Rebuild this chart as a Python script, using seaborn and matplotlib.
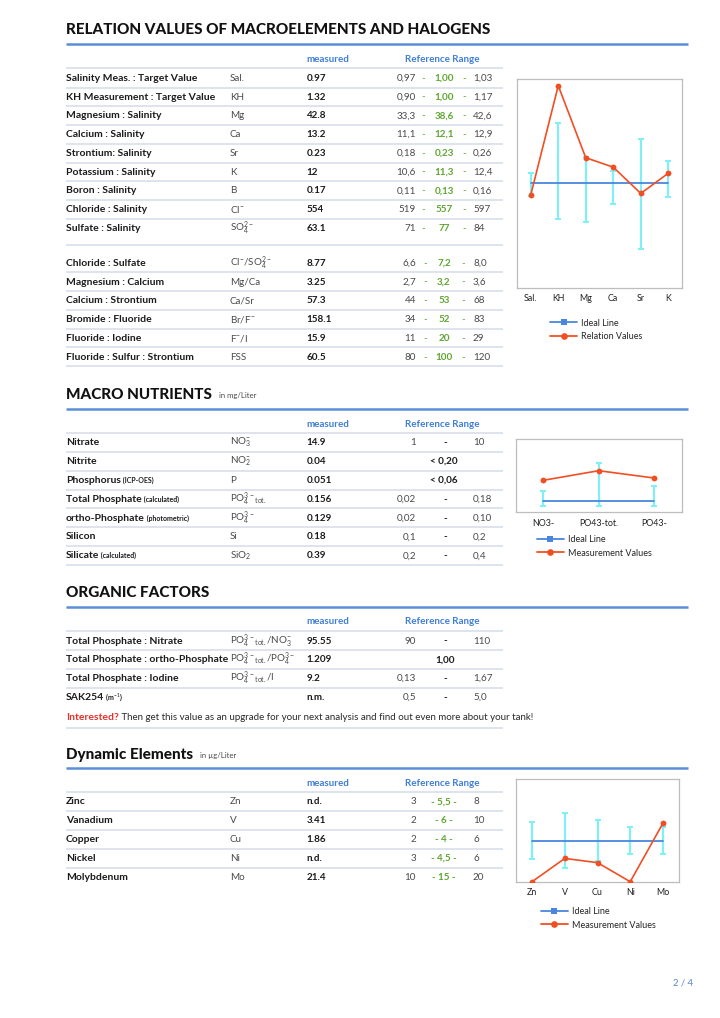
import matplotlib
matplotlib.use("Agg")
import matplotlib.pyplot as plt
import seaborn as sns
import numpy as np
from matplotlib.lines import Line2D

# ------------------------------------------------------------------ data
rel1_names = ["Salinity Meas. : Target Value", "KH Measurement : Target Value",
              "Magnesium : Salinity", "Calcium : Salinity", "Strontium: Salinity",
              "Potassium : Salinity", "Boron : Salinity", "Chloride : Salinity",
              "Sulfate : Salinity"]
rel1_symbols = ["Sal.", "KH", "Mg", "Ca", "Sr", "K", "B", r"Cl$^{-}$", r"SO$_4^{2-}$"]
rel1_measured = ["0.97", "1.32", "42.8", "13.2", "0.23", "12", "0.17", "554", "63.1"]
rel1_low = ["0,97", "0,90", "33,3", "11,1", "0,18", "10,6", "0,11", "519", "71"]
rel1_ideal = ["1,00", "1,00", "38,6", "12,1", "0,23", "11,3", "0,13", "557", "77"]
rel1_high = ["1,03", "1,17", "42,6", "12,9", "0,26", "12,4", "0,16", "597", "84"]

rel2_names = ["Chloride : Sulfate", "Magnesium : Calcium", "Calcium : Strontium",
              "Bromide : Fluoride", "Fluoride : Iodine", "Fluoride : Sulfur : Strontium"]
rel2_symbols = [r"Cl$^{-}$/SO$_4^{2-}$", "Mg/Ca", "Ca/Sr", r"Br/F$^{-}$", r"F$^{-}$/I", "FSS"]
rel2_measured = ["8.77", "3.25", "57.3", "158.1", "15.9", "60.5"]
rel2_low = ["6,6", "2,7", "44", "34", "11", "80"]
rel2_ideal = ["7,2", "3,2", "53", "52", "20", "100"]
rel2_high = ["8,0", "3,6", "68", "83", "29", "120"]

rel_chart_cats = ["Sal.", "KH", "Mg", "Ca", "Sr", "K"]
rel_chart_values = [0.962, 1.320, 1.084, 1.053, 0.967, 1.033]
rel_chart_low = [0.960, 0.882, 0.872, 0.932, 0.786, 0.956]
rel_chart_high = [1.033, 1.199, 1.085, 1.041, 1.144, 1.074]
rel_chart_ideal = [1.0, 1.0, 1.0, 1.0, 1.0, 1.0]

nut_names = ["Nitrate", "Nitrite", "Phosphorus", "Total Phosphate", "ortho-Phosphate",
             "Silicon", "Silicate"]
nut_notes = ["", "", "(ICP-OES)", "(calculated)", "(photometric)", "", "(calculated)"]
nut_symbols = [r"NO$_3^{-}$", r"NO$_2^{-}$", "P", r"PO$_4^{3-}{}_{\mathrm{tot.}}$",
               r"PO$_4^{3-}$", "Si", r"SiO$_2$"]
nut_measured = ["14.9", "0.04", "0.051", "0.156", "0.129", "0.18", "0.39"]
nut_low = ["1", "", "", "0,02", "0,02", "0,1", "0,2"]
nut_high = ["10", "", "", "0,18", "0,10", "0,2", "0,4"]
nut_limit = ["", "< 0,20", "< 0,06", "", "", "", ""]

nut_chart_cats = ["NO3-", "PO43-tot.", "PO43-"]
nut_chart_values = [1.210, 1.306, 1.233]
nut_chart_low = [0.953, 0.953, 0.953]
nut_chart_high = [1.106, 1.380, 1.156]
nut_chart_ideal = [1.0, 1.0, 1.0]

org_names = ["Total Phosphate : Nitrate", "Total Phosphate : ortho-Phosphate",
             "Total Phosphate : Iodine", "SAK254"]
org_notes = ["", "", "", r"(m$^{-1}$)"]
org_symbols = [r"PO$_4^{3-}{}_{\mathrm{tot.}}$/NO$_3^{-}$",
               r"PO$_4^{3-}{}_{\mathrm{tot.}}$/PO$_4^{3-}$",
               r"PO$_4^{3-}{}_{\mathrm{tot.}}$/I", ""]
org_measured = ["95.55", "1.209", "9.2", "n.m."]
org_low = ["90", "", "0,13", "0,5"]
org_high = ["110", "", "1,67", "5,0"]
org_target = ["", "1,00", "", ""]

dyn_names = ["Zinc", "Vanadium", "Copper", "Nickel", "Molybdenum"]
dyn_symbols = ["Zn", "V", "Cu", "Ni", "Mo"]
dyn_measured_text = ["n.d.", "3.41", "1.86", "n.d.", "21.4"]
dyn_measured = [0.0, 3.41, 1.86, 0.0, 21.4]      # n.d. drawn at zero
dyn_low = [3, 2, 2, 3, 10]
dyn_ideal = [5.5, 6, 4, 4.5, 15]
dyn_high = [8, 10, 6, 6, 20]

# ------------------------------------------------------------------ style
sns.set_style("white")
plt.rcParams["font.family"] = ["Lato", "DejaVu Sans"]
plt.rcParams["mathtext.fontset"] = "custom"
plt.rcParams["mathtext.rm"] = "Lato"
plt.rcParams["mathtext.it"] = "Lato"
plt.rcParams["mathtext.bf"] = "Lato:bold"

W, H = 720, 1018
BLACK = "#1b1b1b"
GRAY = "#4a4a4a"
BLUE_HDR = "#3f7fd6"
BLUE_LINE = "#5a8fd8"
SEP = "#d3dcea"
GREEN = "#5fa630"
RED = "#f04f23"
IDEAL = "#4a87dc"
CYAN = "#82eef6"

FS_NAME = 7.5
FS_BODY = 7.1
FS_NOTE = 5.0

fig = plt.figure(figsize=(W / 100, H / 100), dpi=100)
page = fig.add_axes([0, 0, 1, 1])
page.set_xlim(0, W)
page.set_ylim(H, 0)
page.axis("off")

X_NAME, X_SYM, X_MEAS = 66, 230, 306.5
X_LOW, X_MID, X_HIGH = 416, 444, 473


def T(x, y, s, **kw):
    kw.setdefault("fontsize", FS_BODY)
    kw.setdefault("color", GRAY)
    kw.setdefault("va", "center")
    return page.text(x, y, s, **kw)


def hline(y, x0=66, x1=503, color=SEP, lw=1.1):
    page.plot([x0, x1], [y, y], color=color, lw=lw, solid_capstyle="butt")


def section(y_title, y_line, title, unit=None, fs=11.0):
    t = T(X_NAME, y_title, title, fontsize=fs, weight=900, color="#111111")
    if unit:
        page.annotate(unit, xy=(1, 0), xycoords=t, xytext=(5, 2.5),
                      textcoords="offset points", fontsize=5.6, color=GRAY,
                      va="bottom", ha="left")
    hline(y_line, 66, 688, BLUE_LINE, 1.8)


def header(y_text, y_line):
    T(X_MEAS, y_text, "measured", color=BLUE_HDR, weight="bold", fontsize=FS_BODY)
    T(405, y_text, "Reference Range", color=BLUE_HDR, weight="bold", fontsize=FS_BODY)
    hline(y_line)


def name(y, s, note=""):
    t = T(X_NAME, y, s, weight="bold", color=BLACK, fontsize=FS_NAME)
    if note:
        page.annotate(" " + note, xy=(1, 0.5), xycoords=t, fontsize=FS_NOTE,
                      weight="bold", color=BLACK, va="center", ha="left")


# ------------------------------------------------------------------ section 1
section(30, 44.3, "RELATION VALUES OF MACROELEMENTS AND HALOGENS")
header(59.3, 68.3)
for i in range(len(rel1_names)):
    y = 78.3 + i * 18.75
    name(y, rel1_names[i])
    T(X_SYM, y, rel1_symbols[i])
    T(X_MEAS, y, rel1_measured[i], weight="bold", color=BLACK)
    T(X_LOW, y, rel1_low[i], ha="right")
    T(423.5, y, "-", ha="center", color=GREEN)
    T(X_MID, y, rel1_ideal[i], ha="center", color=GREEN, weight="bold")
    T(464.5, y, "-", ha="center", color=GREEN)
    T(X_HIGH, y, rel1_high[i], ha="left")
    if i < len(rel1_names) - 1:
        hline(y + 9.4)
hline(245)
for i in range(len(rel2_names)):
    y = 263.3 + i * 18.8
    name(y, rel2_names[i])
    T(X_SYM, y, rel2_symbols[i])
    T(X_MEAS, y, rel2_measured[i], weight="bold", color=BLACK)
    T(X_LOW, y, rel2_low[i], ha="right")
    T(425, y, "-", ha="center", color=GREEN)
    T(X_MID, y, rel2_ideal[i], ha="center", color=GREEN, weight="bold")
    T(463.5, y, "-", ha="center", color=GREEN)
    T(X_HIGH, y, rel2_high[i], ha="left")
    hline(y + 8.9)

# ------------------------------------------------------------------ section 2
section(395, 409.3, "MACRO NUTRIENTS", "in mg/Liter")
header(424.3, 432.7)
for i in range(len(nut_names)):
    y = 442.7 + i * 18.85
    name(y, nut_names[i], nut_notes[i])
    T(X_SYM, y, nut_symbols[i])
    T(X_MEAS, y, nut_measured[i], weight="bold", color=BLACK)
    if nut_limit[i]:
        T(X_MID, y, nut_limit[i], ha="center", weight="bold", color=BLACK)
    else:
        T(X_LOW, y, nut_low[i], ha="right")
        T(445, y, "-", ha="center", weight="bold", color=BLACK)
        T(X_HIGH, y, nut_high[i], ha="left")
    hline(y + 9.1)

# ------------------------------------------------------------------ section 3
section(593.3, 607.3, "ORGANIC FACTORS")
header(621.7, 631)
for i in range(len(org_names)):
    y = 641 + i * 18.8
    name(y, org_names[i], org_notes[i])
    T(X_SYM, y, org_symbols[i])
    T(X_MEAS, y, org_measured[i], weight="bold", color=BLACK)
    if org_target[i]:
        T(445, y, org_target[i], ha="center", weight="bold", color=BLACK)
    else:
        T(X_LOW, y, org_low[i], ha="right")
        T(445, y, "-", ha="center", weight="bold", color=BLACK)
        T(X_HIGH, y, org_high[i], ha="left")
    if i < len(org_names) - 1:
        hline(y + 9.2)
t = T(X_NAME, 717.3, "Interested?", weight="bold", color="#e8302a", fontsize=FS_NAME)
page.annotate(" Then get this value as an upgrade for your next analysis and find out even more about your tank!",
              xy=(1, 0.5), xycoords=t, va="center", ha="left", fontsize=7.0, color="#2a2a2a")
hline(728)

# ------------------------------------------------------------------ section 4
section(755, 768.3, "Dynamic Elements", "in µg/Liter")
header(784, 792.3)


def fmt(v):
    return f"{v:g}".replace(".", ",")


for i in range(len(dyn_names)):
    y = 801.7 + i * 18.9
    name(y, dyn_names[i])
    T(X_SYM, y, dyn_symbols[i])
    T(X_MEAS, y, dyn_measured_text[i], weight="bold", color=BLACK)
    T(X_LOW, y, fmt(dyn_low[i]), ha="right")
    T(X_MID, y, f"- {fmt(dyn_ideal[i])} -", ha="center", color=GREEN, weight="bold")
    T(X_HIGH, y, fmt(dyn_high[i]), ha="left")
    if i < len(dyn_names) - 1:
        hline(y + 9.3)

T(683, 983.3, "2 / 4", ha="center", color="#5b86c5", fontsize=6.8)


# ------------------------------------------------------------------ charts
def chart(box, cats, values, lows, highs, ideal, ylim, meas_label, legend_xy):
    l, r, t_, b = box
    ax = fig.add_axes([l / W, 1 - b / H, (r - l) / W, (b - t_) / H])
    x = np.arange(len(cats))
    v = np.asarray(values)
    lo = np.asarray(lows)
    hi = np.asarray(highs)
    mid = (lo + hi) / 2
    ax.errorbar(x, mid, yerr=(hi - lo) / 2, fmt="none", ecolor=CYAN, elinewidth=1.6,
                capsize=2.4, capthick=1.5, zorder=1)
    sns.lineplot(x=x, y=ideal, ax=ax, color=IDEAL, linewidth=1.3, sort=False,
                 legend=False, zorder=2)
    sns.lineplot(x=x, y=v, ax=ax, color=RED, linewidth=1.2, marker="o", markersize=4.2,
                 markeredgewidth=0, sort=False, legend=False, zorder=3)
    ax.set_xlim(-0.5, len(cats) - 0.5)
    ax.set_ylim(*ylim)
    ax.set_xticks(x)
    ax.set_xticklabels(cats, fontsize=6.4, color="#222222")
    ax.set_yticks([])
    ax.tick_params(axis="x", length=0, pad=4.5)
    for s in ax.spines.values():
        s.set_color("#bdbdbd")
        s.set_linewidth(0.9)
    ax.set_xlabel("")
    ax.set_ylabel("")
    handles = [Line2D([], [], color=IDEAL, lw=1.3, marker="s", markersize=4.4,
                      markeredgewidth=0),
               Line2D([], [], color=RED, lw=1.3, marker="o", markersize=4.8,
                      markeredgewidth=0)]
    ax.legend(handles, ["Ideal Line", meas_label], loc="upper left",
              bbox_to_anchor=(legend_xy[0] / W, 1 - legend_xy[1] / H),
              bbox_transform=fig.transFigure, frameon=False, fontsize=6.5,
              handlelength=3.0, handletextpad=0.45, labelspacing=0.5,
              borderpad=0, borderaxespad=0)
    return ax


chart((517, 682, 79, 288), rel_chart_cats, rel_chart_values, rel_chart_low,
      rel_chart_high, rel_chart_ideal, (0.657, 1.342), "Relation Values", (550, 318.5))
chart((515.7, 681.7, 439, 512.3), nut_chart_cats, nut_chart_values, nut_chart_low,
      nut_chart_high, nut_chart_ideal, (0.89, 1.623), "Measurement Values", (536.7, 535))

dyn_ratio = np.asarray(dyn_measured) / np.asarray(dyn_ideal)
dyn_lo_ratio = np.asarray(dyn_low) / np.asarray(dyn_ideal)
dyn_hi_ratio = np.asarray(dyn_high) / np.asarray(dyn_ideal)
chart((515.7, 679.3, 779.3, 881.7), dyn_symbols, dyn_ratio, dyn_lo_ratio, dyn_hi_ratio,
      np.ones(len(dyn_symbols)), (0, 2.5), "Measurement Values", (540.7, 907))

fig.savefig("out.png", dpi=100)
